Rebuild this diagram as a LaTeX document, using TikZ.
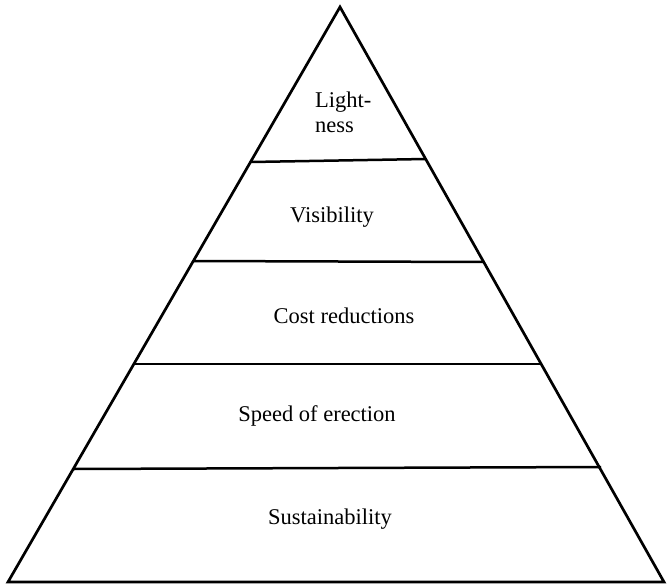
\documentclass[tikz,border=0pt]{standalone}
\usepackage{fontspec}
\setmainfont{Liberation Serif}

\begin{document}
\begin{tikzpicture}[x=1pt, y=-1pt,
    rotulo/.style={inner sep=0pt, font=\fontsize{22.5}{25}\selectfont}]

    \useasboundingbox (0,0) rectangle (667,586);

    \draw[line width=2.7pt, line join=miter] (340,7) -- (8,582) -- (664,582) -- cycle; %triangulo

    %franjas
    \draw[line width=2.5pt] (251,162) -- (426,159);
    \draw[line width=2.5pt] (193,261) -- (484,262);
    \draw[line width=2.5pt] (134,364) -- (541,364);
    \draw[line width=2.5pt] (74,469) -- (601,467);

    %textos
    \node[rotulo, align=left, anchor=west] (ligereza) at (315,112) {Light-\\ness};
    \node[rotulo] (visibilidad) at (332,217) {Visibility};
    \node[rotulo] (costes) at (344,316) {Cost reductions};
    \node[rotulo] (velocidad) at (317,416) {Speed of erection};
    \node[rotulo] (sostenible) at (330,519) {Sustainability};

\end{tikzpicture}
\end{document}
